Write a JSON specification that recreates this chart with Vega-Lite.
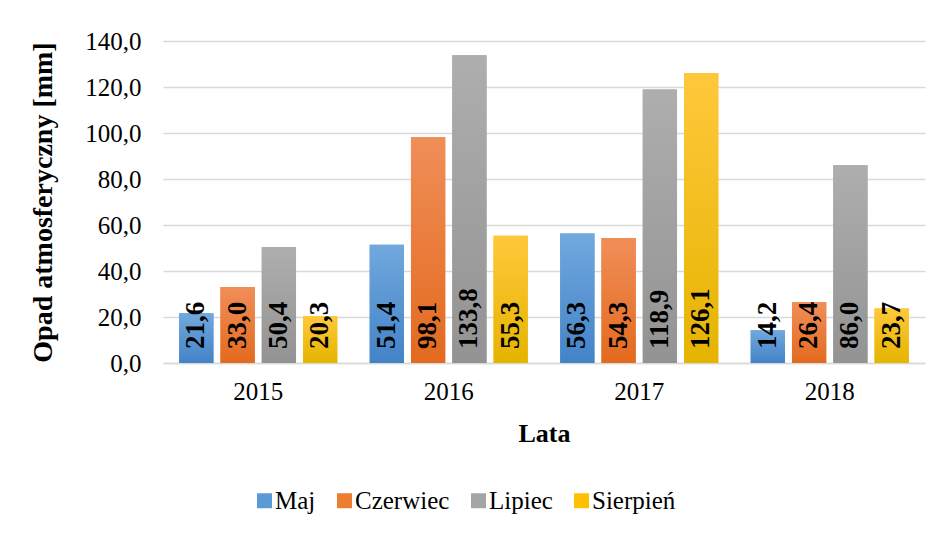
{
  "$schema": "https://vega.github.io/schema/vega-lite/v6.json",
  "autosize": {"type": "none"},
  "width": 762,
  "height": 322,
  "padding": {"left": 163, "top": 41, "right": 21, "bottom": 172},
  "background": "white",
  "config": {
    "locale": {"number": {"decimal": ",", "thousands": " ", "grouping": [3], "currency": ["", " zł"]}},
    "font": "Times New Roman, Liberation Serif, DejaVu Serif, serif",
    "axis": {"labelFont": "Times New Roman, Liberation Serif, DejaVu Serif, serif", "titleFont": "Times New Roman, Liberation Serif, DejaVu Serif, serif"},
    "legend": {"labelFont": "Times New Roman, Liberation Serif, DejaVu Serif, serif", "titleFont": "Times New Roman, Liberation Serif, DejaVu Serif, serif"},
    "view": {"stroke": null}
  },
  "data": {"values": [
    {"Rok": "2015", "Miesiac": "Maj", "Opad": 21.6},
    {"Rok": "2015", "Miesiac": "Czerwiec", "Opad": 33.0},
    {"Rok": "2015", "Miesiac": "Lipiec", "Opad": 50.4},
    {"Rok": "2015", "Miesiac": "Sierpień", "Opad": 20.3},
    {"Rok": "2016", "Miesiac": "Maj", "Opad": 51.4},
    {"Rok": "2016", "Miesiac": "Czerwiec", "Opad": 98.1},
    {"Rok": "2016", "Miesiac": "Lipiec", "Opad": 133.8},
    {"Rok": "2016", "Miesiac": "Sierpień", "Opad": 55.3},
    {"Rok": "2017", "Miesiac": "Maj", "Opad": 56.3},
    {"Rok": "2017", "Miesiac": "Czerwiec", "Opad": 54.3},
    {"Rok": "2017", "Miesiac": "Lipiec", "Opad": 118.9},
    {"Rok": "2017", "Miesiac": "Sierpień", "Opad": 126.1},
    {"Rok": "2018", "Miesiac": "Maj", "Opad": 14.2},
    {"Rok": "2018", "Miesiac": "Czerwiec", "Opad": 26.4},
    {"Rok": "2018", "Miesiac": "Lipiec", "Opad": 86.0},
    {"Rok": "2018", "Miesiac": "Sierpień", "Opad": 23.7}
  ]},
  "encoding": {
    "x": {
      "field": "Rok", "type": "nominal",
      "scale": {"paddingInner": 0.17, "paddingOuter": 0.085},
      "axis": {
        "title": "Lata", "labelAngle": 0, "labelFontSize": 25, "labelColor": "#000", "labelPadding": 16,
        "titleFontSize": 26, "titleFontWeight": "bold", "titleColor": "#000", "titlePadding": 16,
        "ticks": false, "domain": true, "domainColor": "#D9D9D9", "domainWidth": 1.5
      }
    },
    "xOffset": {
      "field": "Miesiac", "type": "nominal",
      "scale": {"domain": ["Maj", "Czerwiec", "Lipiec", "Sierpień"], "paddingInner": 0.17, "paddingOuter": 0}
    },
    "y": {
      "field": "Opad", "type": "quantitative",
      "scale": {"domain": [0, 140], "nice": false},
      "axis": {
        "title": "Opad atmosferyczny [mm]", "format": ".1f", "values": [0, 20, 40, 60, 80, 100, 120, 140],
        "labelOverlap": false, "labelFontSize": 25, "labelColor": "#000", "labelPadding": 22,
        "titleFontSize": 28, "titleFontWeight": "bold", "titleColor": "#000", "titlePadding": 27,
        "ticks": false, "domain": false, "grid": true, "gridColor": "#D9D9D9", "gridWidth": 1.5
      }
    }
  },
  "layer": [
    {
      "mark": {"type": "bar"},
      "encoding": {
        "color": {
          "field": "Miesiac", "type": "nominal",
          "scale": {"domain": ["Maj", "Czerwiec", "Lipiec", "Sierpień"], "range": ["#5B9BD5", "#ED7D31", "#A5A5A5", "#FFC000"]},
          "legend": {
            "title": null, "orient": "none", "direction": "horizontal", "legendX": 89, "legendY": 447,
            "symbolType": "square", "symbolSize": 225, "symbolStrokeWidth": 0, "symbolOpacity": 1,
            "labelFontSize": 25, "labelColor": "#000", "labelOffset": -2, "columnPadding": 16
          }
        }
      }
    },
    {
      "transform": [{"filter": "datum.Miesiac === 'Maj'"}],
      "mark": {"type": "bar", "fill": {"gradient": "linear", "x1": 0, "y1": 0, "x2": 0, "y2": 1, "stops": [{"offset": 0, "color": "#71A8DE"}, {"offset": 1, "color": "#4383C7"}]}}
    },
    {
      "transform": [{"filter": "datum.Miesiac === 'Czerwiec'"}],
      "mark": {"type": "bar", "fill": {"gradient": "linear", "x1": 0, "y1": 0, "x2": 0, "y2": 1, "stops": [{"offset": 0, "color": "#F08E58"}, {"offset": 1, "color": "#E36A1E"}]}}
    },
    {
      "transform": [{"filter": "datum.Miesiac === 'Lipiec'"}],
      "mark": {"type": "bar", "fill": {"gradient": "linear", "x1": 0, "y1": 0, "x2": 0, "y2": 1, "stops": [{"offset": 0, "color": "#AEAEAE"}, {"offset": 1, "color": "#939393"}]}}
    },
    {
      "transform": [{"filter": "datum.Miesiac === 'Sierpień'"}],
      "mark": {"type": "bar", "fill": {"gradient": "linear", "x1": 0, "y1": 0, "x2": 0, "y2": 1, "stops": [{"offset": 0, "color": "#FFC83C"}, {"offset": 1, "color": "#E5B400"}]}}
    },
    {
      "mark": {"type": "text", "angle": 270, "align": "left", "baseline": "middle", "dx": 14, "fontSize": 27, "fontWeight": "bold", "color": "#000", "font": "Times New Roman, Liberation Serif, DejaVu Serif, serif"},
      "encoding": {
        "y": {"datum": 0, "type": "quantitative"},
        "text": {"field": "Opad", "type": "quantitative", "format": ".1f"}
      }
    }
  ]
}
